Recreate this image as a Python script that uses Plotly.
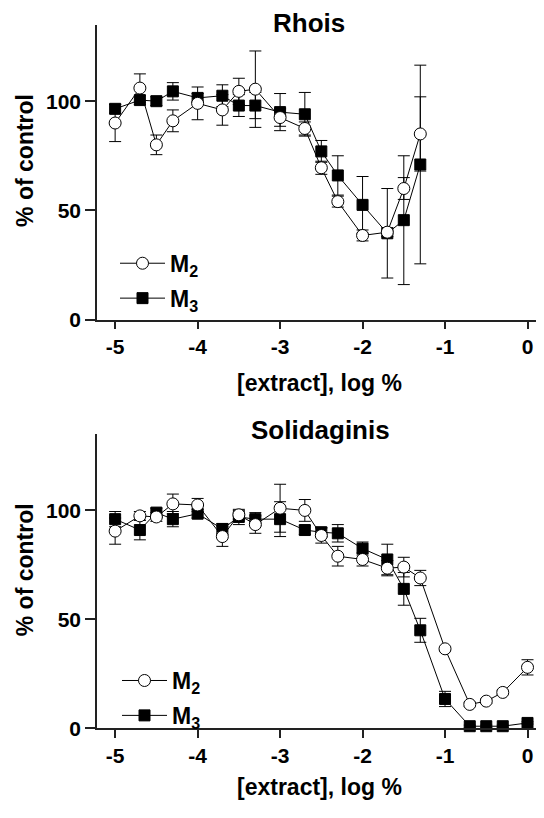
import plotly.graph_objects as go

# ---- data ----
x_rhois = [-5, -4.7, -4.5, -4.3, -4, -3.7, -3.5, -3.3, -3, -2.7, -2.5, -2.3, -2, -1.7, -1.5, -1.3]
rhois_m2 = [90, 106, 80, 91, 99, 96, 104.5, 105.5, 92.5, 87.5, 69.5, 54, 38.5, 40, 60, 85]
rhois_m2_err = [8.5, 6.5, 4.5, 5, 7.5, 7, 6, 17.5, 4, 3, 3, 2.5, 2.5, 2, 5, 17]
rhois_m3 = [96.5, 100.5, 100, 104.5, 101.5, 102.5, 98, 98, 95, 94, 77, 66, 52.5, 39.5, 45.5, 71]
rhois_m3_err = [2, 2, 2, 4, 2, 5, 5, 6, 8.5, 10, 5, 9, 13, 20.5, 29.5, 45.5]

x_sol = [-5, -4.7, -4.5, -4.3, -4, -3.7, -3.5, -3.3, -3, -2.7, -2.5, -2.3, -2, -1.7,
         -1.5, -1.3, -1, -0.7, -0.5, -0.3, 0]
sol_m2 = [90.5, 97.5, 97, 103, 102.5, 88, 98, 93.5, 101, 100, 88.5, 79, 77.5, 73.5,
          74, 69, 36.5, 11, 12.5, 16.5, 28]
sol_m2_err = [6, 2, 2, 4.5, 3, 4.5, 2, 4, 11, 5, 3.5, 4.5, 3, 3.5, 4.5, 3.5, 1, 1, 1, 1, 3.5]
sol_m3 = [96, 91, 99, 96, 98.5, 91.5, 97, 96, 96, 91, 90, 89.5, 82.5, 77.5, 64, 45,
          13.5, 1, 1, 1, 2.5]
sol_m3_err = [3.5, 4.5, 2, 3.5, 2, 2.5, 3.5, 3, 8, 2, 2, 4, 3, 7, 7.5, 5.5, 3.5,
              0.5, 0.5, 0.5, 0.5]

x_tickvals = [-5, -4, -3, -2, -1, 0]
x_ticktext = ["-5", "-4", "-3", "-2", "-1", "0"]
y_tickvals = [0, 50, 100]
y_ticktext = ["0", "50", "100"]

panel_titles = ["Rhois", "Solidaginis"]
series_names = ["M<sub>2</sub>", "M<sub>3</sub>"]
x_title = "[extract], log %"
y_title = "% of control"

FONT = "Arial, 'Liberation Sans', sans-serif"
OFF = 8  # default page body margin
W, H = 544 - OFF, 818 - OFF


def px(x):
    return (x - OFF) / W


def py(y):
    return 1 - (y - OFF) / H


fig = go.Figure()


def add_series(x, y, err, name, symbol, fill, xa, ya, legend, rank):
    fig.add_trace(go.Scatter(
        x=x, y=y, name=name, mode="lines+markers",
        xaxis=xa, yaxis=ya, legend=legend, legendrank=rank, legendgroup=legend + name,
        line=dict(color="black", width=1),
        marker=dict(symbol=symbol, size=12 if symbol == "circle" else 11,
                    color=fill, line=dict(color="black", width=1)),
        error_y=dict(type="data", array=err, visible=True, color="black",
                     thickness=1, width=6),
        cliponaxis=False,
    ))


# top panel: squares first, circles on top
add_series(x_rhois, rhois_m3, rhois_m3_err, series_names[1], "square", "black", "x", "y", "legend", 2)
add_series(x_rhois, rhois_m2, rhois_m2_err, series_names[0], "circle", "white", "x", "y", "legend", 1)
# bottom panel
add_series(x_sol, sol_m3, sol_m3_err, series_names[1], "square", "black", "x2", "y2", "legend2", 2)
add_series(x_sol, sol_m2, sol_m2_err, series_names[0], "circle", "white", "x2", "y2", "legend2", 1)

x_dom = [px(97), 1.0]
top_dom = [py(323.8), py(25)]
bot_dom = [py(738.3), py(440)]

xaxis_common = dict(
    range=[-5.22, 0.2], tickvals=x_tickvals, ticktext=x_ticktext,
    showline=True, linecolor="#222", linewidth=1.5, ticks="outside", ticklen=8,
    tickwidth=1.5, tickcolor="#222", showgrid=False, zeroline=False,
    tickfont=dict(family=FONT, size=21, color="black", weight="bold"),
)
yaxis_common = dict(
    range=[0, 135], tickvals=y_tickvals, ticktext=y_ticktext,
    showline=True, linecolor="#222", linewidth=1.5, ticks="outside", ticklen=10,
    tickwidth=1.5, tickcolor="#222", showgrid=False, zeroline=False,
    tickfont=dict(family=FONT, size=21, color="black", weight="bold"),
)

legend_common = dict(
    font=dict(family=FONT, size=23, color="black", weight="bold"),
    bgcolor="rgba(0,0,0,0)", borderwidth=0, itemwidth=45,
    tracegroupgap=2, xanchor="left", yanchor="top", traceorder="grouped",
)

fig.update_layout(
    width=W, height=H,
    margin=dict(l=0, r=0, t=0, b=0),
    paper_bgcolor="white", plot_bgcolor="white",
    showlegend=True,
    xaxis=dict(domain=x_dom, anchor="y", **xaxis_common),
    yaxis=dict(domain=top_dom, anchor="x", **yaxis_common),
    xaxis2=dict(domain=x_dom, anchor="y2", **xaxis_common),
    yaxis2=dict(domain=bot_dom, anchor="x2", **yaxis_common),
    legend=dict(x=px(115), y=py(245), **legend_common),
    legend2=dict(x=px(117), y=py(668), **legend_common),
)

annots = []
# panel titles
annots.append(dict(text="<b>" + panel_titles[0] + "</b>", x=px(309), y=py(23),
                   xref="paper", yref="paper", showarrow=False,
                   xanchor="center", yanchor="middle",
                   font=dict(family=FONT, size=26, color="black")))
annots.append(dict(text="<b>" + panel_titles[1] + "</b>", x=px(320), y=py(436),
                   xref="paper", yref="paper", showarrow=False,
                   xanchor="center", yanchor="middle",
                   font=dict(family=FONT, size=26, color="black")))
# axis titles
for cy_title, cx_xt in [(163, 388), (578, 798)]:
    annots.append(dict(text="<b>" + y_title + "</b>", x=px(25), y=py(cy_title),
                       xref="paper", yref="paper", showarrow=False, textangle=-90,
                       xanchor="center", yanchor="middle",
                       font=dict(family=FONT, size=23, color="black")))
    annots.append(dict(text="<b>" + x_title + "</b>", x=px(319), y=py(cx_xt),
                       xref="paper", yref="paper", showarrow=False,
                       xanchor="center", yanchor="middle",
                       font=dict(family=FONT, size=23, color="black")))
fig.update_layout(annotations=annots)

fig.write_html("out.html")
